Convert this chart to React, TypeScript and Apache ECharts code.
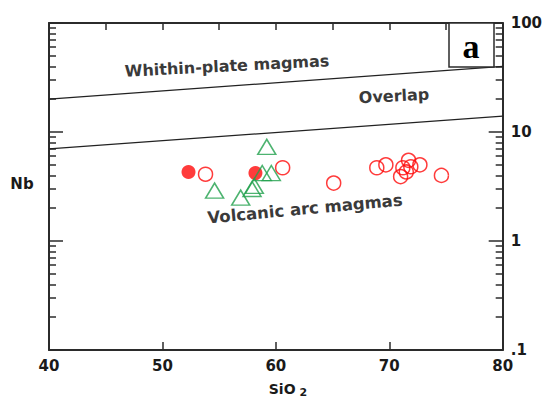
import React, { useEffect, useRef } from "react";
import * as echarts from "echarts";

// SiO2 (wt%) vs Nb (ppm)
const filledCircles: [number, number][] = [
  [52.3, 4.3],
  [58.2, 4.2],
];
const openCircles: [number, number][] = [
  [53.8, 4.1],
  [60.6, 4.7],
  [65.1, 3.4],
  [68.9, 4.7],
  [69.7, 5.0],
  [71.0, 3.9],
  [71.2, 4.7],
  [71.5, 4.3],
  [71.7, 5.5],
  [71.9, 4.8],
  [72.7, 5.0],
  [74.6, 4.0],
];
const triangles: [number, number][] = [
  [59.2, 7.3],
  [54.6, 2.9],
  [56.9, 2.5],
  [57.9, 3.0],
  [58.1, 3.2],
  [58.8, 4.2],
  [59.6, 4.2],
];
// discrimination boundaries
const upperBoundary: [number, number][] = [
  [40, 20],
  [80, 40],
];
const lowerBoundary: [number, number][] = [
  [40, 7],
  [80, 14],
];
const yMinorTicks = [
  0.2, 0.3, 0.4, 0.5, 0.6, 0.7, 0.8, 0.9, 2, 3, 4, 5, 6, 7, 8, 9, 20, 30, 40,
  50, 60, 70, 80, 90,
];
const yLabels: Record<string, string> = { "0.1": ".1", "1": "1", "10": "10", "100": "100" };

const FONT = "'DejaVu Sans', Verdana, sans-serif";
const AX = "#2b2b2b";
const RED = "#ff0a0a";
const GREEN = "#21a04c";

export default function App() {
  const ref = useRef<HTMLDivElement>(null);
  useEffect(() => {
    if (!ref.current) return;
    const chart = echarts.init(ref.current, null, { renderer: "svg" });
    const yMajor = (pos: "left" | "right", labels: boolean) => ({
      type: "log",
      logBase: 10,
      min: 0.1,
      max: 100,
      position: pos,
      axisLine: { show: true, onZero: false, lineStyle: { color: AX, width: 2 } },
      axisTick: { show: true, inside: true, length: 14, lineStyle: { color: AX, width: 1.5 } },
      axisLabel: labels
        ? {
            show: true,
            margin: 8,
            fontFamily: FONT,
            fontWeight: "bold",
            fontSize: 15,
            color: "#1a1a1a",
            formatter: (v: number) => yLabels[String(v)] ?? String(v),
          }
        : { show: false },
      splitLine: { show: false },
    });
    // tick-only axes in log10 units for the minor log ticks
    const yMinor = (pos: "left" | "right") => ({
      type: "value",
      min: -1,
      max: 2,
      position: pos,
      axisLine: { show: false, onZero: false },
      axisTick: {
        show: true,
        inside: true,
        length: 7,
        customValues: yMinorTicks.map((v) => Math.log10(v)),
        lineStyle: { color: AX, width: 1.5 },
      },
      axisLabel: { show: false },
      splitLine: { show: false },
    });
    chart.setOption({
      animation: false,
      grid: { left: 49, right: 40, top: 23, bottom: 50 },
      xAxis: [
        {
          type: "value",
          min: 40,
          max: 80,
          interval: 10,
          position: "bottom",
          axisLine: { show: true, onZero: false, lineStyle: { color: AX, width: 2 } },
          axisTick: { show: true, inside: true, length: 8, lineStyle: { color: AX, width: 1.5 } },
          axisLabel: {
            margin: 8,
            fontFamily: FONT,
            fontWeight: "bold",
            fontSize: 15,
            color: "#1a1a1a",
          },
          splitLine: { show: false },
        },
        {
          type: "value",
          min: 40,
          max: 80,
          interval: 5,
          position: "top",
          axisLine: { show: true, onZero: false, lineStyle: { color: AX, width: 2 } },
          axisTick: { show: true, inside: true, length: 7, lineStyle: { color: AX, width: 1.5 } },
          axisLabel: { show: false },
          splitLine: { show: false },
        },
      ],
      yAxis: [yMajor("right", true), yMajor("left", false), yMinor("right"), yMinor("left")],
      series: [
        {
          type: "line",
          data: upperBoundary,
          symbol: "none",
          lineStyle: { color: "#222", width: 1.3 },
          silent: true,
          z: 1,
        },
        {
          type: "line",
          data: lowerBoundary,
          symbol: "none",
          lineStyle: { color: "#222", width: 1.3 },
          silent: true,
          z: 1,
        },
        {
          type: "scatter",
          data: openCircles,
          symbol: "circle",
          symbolSize: 14,
          itemStyle: { color: "rgba(0,0,0,0)", borderColor: RED, borderWidth: 1.5 },
          z: 3,
        },
        {
          type: "scatter",
          data: triangles,
          symbol: "triangle",
          symbolSize: [18, 15],
          itemStyle: { color: "rgba(0,0,0,0)", borderColor: GREEN, borderWidth: 1.5 },
          z: 4,
        },
        {
          type: "scatter",
          data: filledCircles,
          symbol: "circle",
          symbolSize: 14,
          itemStyle: { color: RED },
          z: 3,
        },
      ],
      graphic: [
        {
          type: "text",
          x: 227,
          y: 66,
          rotation: (3 * Math.PI) / 180,
          style: {
            text: "Whithin-plate magmas",
            font: `bold 16px ${FONT}`,
            fill: "#3a3a3a",
            align: "center",
            verticalAlign: "middle",
          },
        },
        {
          type: "text",
          x: 394,
          y: 96,
          rotation: (3 * Math.PI) / 180,
          style: {
            text: "Overlap",
            font: `bold 16px ${FONT}`,
            fill: "#3a3a3a",
            align: "center",
            verticalAlign: "middle",
          },
        },
        {
          type: "text",
          x: 305,
          y: 209,
          rotation: (5.3 * Math.PI) / 180,
          style: {
            text: "Volcanic arc magmas",
            font: `bold 16.5px ${FONT}`,
            fill: "#3a3a3a",
            align: "center",
            verticalAlign: "middle",
          },
        },
        {
          type: "rect",
          shape: { x: 449, y: 23, width: 45, height: 44 },
          style: { fill: "#fff", stroke: AX, lineWidth: 1.5 },
          z: 10,
        },
        {
          type: "text",
          x: 471,
          y: 46,
          z: 11,
          style: {
            text: "a",
            font: "bold 34px 'Liberation Serif', 'DejaVu Serif', serif",
            fill: "#000",
            align: "center",
            verticalAlign: "middle",
          },
        },
        {
          type: "text",
          x: 22,
          y: 184,
          style: {
            text: "Nb",
            font: `bold 15px ${FONT}`,
            fill: "#1a1a1a",
            align: "center",
            verticalAlign: "middle",
          },
        },
        {
          type: "text",
          x: 288,
          y: 389,
          style: {
            text: "{m|SiO}{s|2}",
            align: "center",
            verticalAlign: "middle",
            rich: {
              m: { font: `bold 14px ${FONT}`, fill: "#1a1a1a" },
              s: { font: `bold 11px ${FONT}`, fill: "#1a1a1a", padding: [6, 0, 0, 4] },
            },
          },
        },
      ],
    });
    return () => chart.dispose();
  }, []);
  return (
    <div
      ref={ref}
      style={{ position: "absolute", left: 0, top: 0, width: 545, height: 400 }}
    />
  );
}
